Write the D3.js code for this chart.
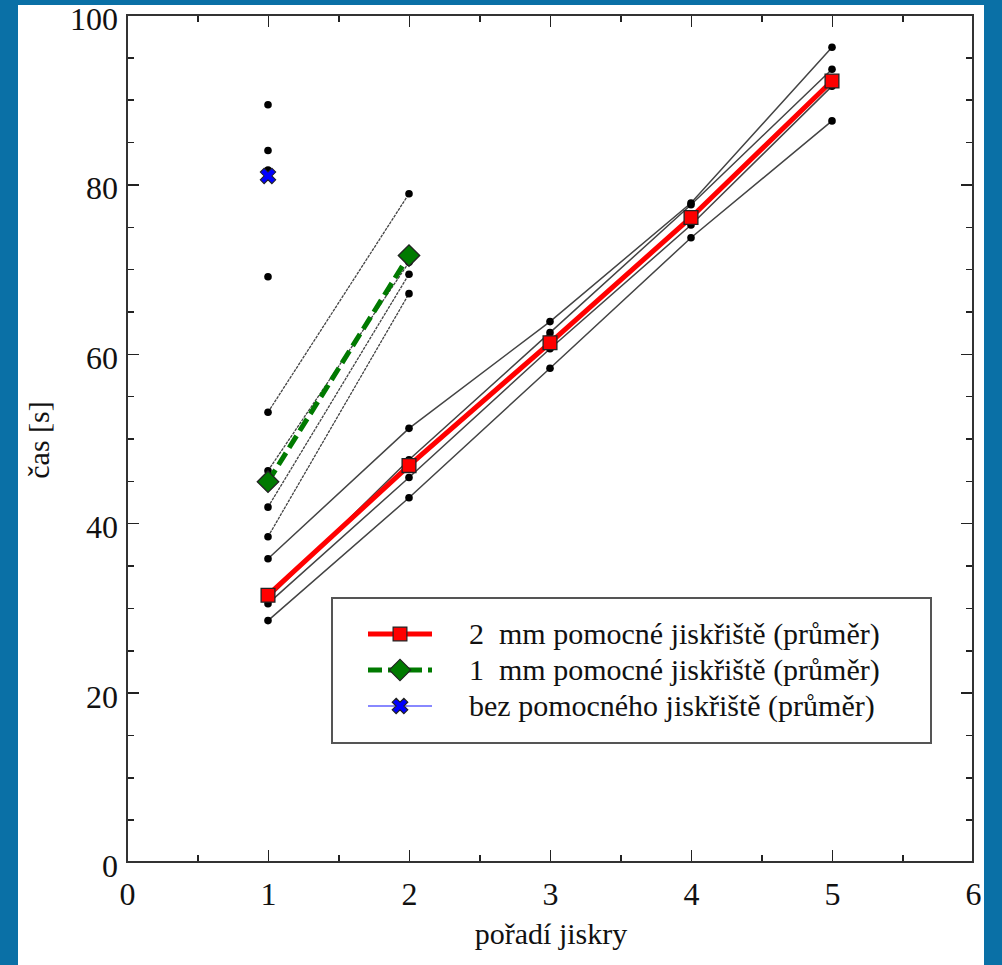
<!DOCTYPE html>
<html>
<meta charset="utf-8">
<style>
body { margin: 0; background: #0a70a6; }
svg { display: block; }
.axis path, .axis line { stroke: #222; shape-rendering: crispEdges; }
svg text { font-family: "Liberation Serif", "Times New Roman", Tinos, "DejaVu Serif", "Noto Serif", FreeSerif, serif !important; fill: #111; }
</style>
<body>
<script src="https://d3js.org/d3.v7.min.js"></script>
<script>
// data
var xTicks = [0, 1, 2, 3, 4, 5, 6];
var yTicks = [0, 20, 40, 60, 80, 100];
var sparks = [1, 2, 3, 4, 5];

// single runs with 2 mm gap
var runs2mm = [
	[35.8, 51.2, 63.8, 77.8, 96.2],
	[31.1, 47.5, 62.5, 77.6, 93.6],
	[30.5, 45.4, 60.6, 75.2, 91.6],
	[28.5, 43.0, 58.3, 73.7, 87.5]
];
var mean2mm = [31.5, 46.8, 61.3, 76.1, 92.2];

// single runs with 1 mm gap
var runs1mm = [
	[53.1, 78.9],
	[46.2, 70.8],
	[41.9, 69.4],
	[38.4, 67.1]
];
var mean1mm = [44.9, 71.6];

// without auxiliary gap
var runsNone = [89.4, 84.0, 81.7, 69.1];
var meanNone = [81.0];

var legendLabels = [
	"2\u00a0\u00a0mm pomocné jiskřiště (průměr)",
	"1\u00a0\u00a0mm pomocné jiskřiště (průměr)",
	"bez pomocného jiskřiště (průměr)"
];

var W = 1002, H = 965;
var margin = {top: 15, right: 29, bottom: 103, left: 127},
	width = W - margin.left - margin.right,
	height = H - margin.top - margin.bottom;

var svgRoot = d3.select("body").append("svg")
	.attr("width", W)
	.attr("height", H);

// white panel on blue frame
svgRoot.append("rect")
	.attr("x", 18).attr("y", 5)
	.attr("width", 966).attr("height", H - 5)
	.attr("fill", "#fff");

var svg = svgRoot.append("g")
	.attr("transform", "translate(" + margin.left + "," + margin.top + ")");

var x = d3.scaleLinear().domain([0, 6]).range([0, width]);
var y = d3.scaleLinear().domain([0, 100]).range([height, 0]);

// minor ticks
var xMinor = d3.range(0.5, 6, 1);
var yMinor = d3.range(0, 101, 5).filter(function(v) { return v % 20 !== 0; });

function tickAxis(axis, cls, tr) {
	return svg.append("g")
		.attr("class", "axis " + cls)
		.attr("transform", tr)
		.call(axis)
		.call(function(g) { g.select(".domain").remove(); });
}

// major inward ticks with labels (bottom, left)
tickAxis(d3.axisBottom(x).tickValues(xTicks).tickSize(-12).tickPadding(20).tickFormat(d3.format("d")), "xb", "translate(0," + height + ")");
var yl = tickAxis(d3.axisLeft(y).tickValues(yTicks).tickSize(-12).tickPadding(9).tickFormat(d3.format("d")), "yl", "translate(0,0)");
yl.selectAll("text").attr("dy", "0.45em");
// top / right major ticks without labels
tickAxis(d3.axisTop(x).tickValues(xTicks).tickSize(-12).tickFormat(""), "xt", "translate(0,0)");
tickAxis(d3.axisRight(y).tickValues(yTicks).tickSize(-12).tickFormat(""), "yr", "translate(" + width + ",0)");
// minor ticks on all sides
tickAxis(d3.axisBottom(x).tickValues(xMinor).tickSize(-7).tickFormat(""), "xbm", "translate(0," + height + ")");
tickAxis(d3.axisTop(x).tickValues(xMinor).tickSize(-7).tickFormat(""), "xtm", "translate(0,0)");
tickAxis(d3.axisLeft(y).tickValues(yMinor).tickSize(-7).tickFormat(""), "ylm", "translate(0,0)");
tickAxis(d3.axisRight(y).tickValues(yMinor).tickSize(-7).tickFormat(""), "yrm", "translate(" + width + ",0)");

svg.selectAll(".axis line").attr("stroke-width", 1.5);
svg.selectAll(".axis text")
	.attr("font-size", "32px")
	.attr("fill", "#111");

// frame
svg.append("rect")
	.attr("width", width).attr("height", height)
	.attr("fill", "none")
	.attr("stroke", "#333")
	.attr("stroke-width", 2);

var line = d3.line()
	.x(function(d) { return x(d[0]); })
	.y(function(d) { return y(d[1]); });

function pts(xs, vals) { return vals.map(function(v, i) { return [xs[i], v]; }); }

// thin run lines
runs1mm.forEach(function(r) {
	svg.append("path")
		.attr("d", line(pts(sparks, r)))
		.attr("fill", "none")
		.attr("stroke", "#444")
		.attr("stroke-width", 1.3)
		.attr("stroke-dasharray", "3,1");
});
runs2mm.forEach(function(r) {
	svg.append("path")
		.attr("d", line(pts(sparks, r)))
		.attr("fill", "none")
		.attr("stroke", "#444")
		.attr("stroke-width", 1.5);
});

// run points
var allDots = [];
runs2mm.forEach(function(r) { allDots = allDots.concat(pts(sparks, r)); });
runs1mm.forEach(function(r) { allDots = allDots.concat(pts(sparks, r)); });
runsNone.forEach(function(v) { allDots.push([1, v]); });
svg.selectAll(".dot")
	.data(allDots)
	.enter().append("circle")
	.attr("class", "dot")
	.attr("cx", function(d) { return x(d[0]); })
	.attr("cy", function(d) { return y(d[1]); })
	.attr("r", 3.8)
	.attr("fill", "#000");

// mean lines
svg.append("path")
	.attr("d", line(pts(sparks, mean2mm)))
	.attr("fill", "none")
	.attr("stroke", "#ff0000")
	.attr("stroke-width", 5);
svg.append("path")
	.attr("d", line(pts(sparks, mean1mm)))
	.attr("fill", "none")
	.attr("stroke", "#007a00")
	.attr("stroke-width", 5)
	.attr("stroke-dasharray", "14,6");

var sq = d3.symbol().type(d3.symbolSquare).size(190);
var di = d3.symbol().type(d3.symbolSquare).size(230);
var cr = d3.symbol().type(d3.symbolCross).size(150);

svg.selectAll(".m2")
	.data(pts(sparks, mean2mm))
	.enter().append("path")
	.attr("transform", function(d) { return "translate(" + x(d[0]) + "," + y(d[1]) + ")"; })
	.attr("d", sq)
	.attr("fill", "#ff0000")
	.attr("stroke", "#222")
	.attr("stroke-width", 1.3);
svg.selectAll(".m1")
	.data(pts(sparks, mean1mm))
	.enter().append("path")
	.attr("transform", function(d) { return "translate(" + x(d[0]) + "," + y(d[1]) + ") rotate(45)"; })
	.attr("d", di)
	.attr("fill", "#007a00")
	.attr("stroke", "#222")
	.attr("stroke-width", 1.3);
svg.selectAll(".m0")
	.data(pts(sparks, meanNone))
	.enter().append("path")
	.attr("transform", function(d) { return "translate(" + x(d[0]) + "," + y(d[1]) + ") rotate(45)"; })
	.attr("d", cr)
	.attr("fill", "#0000ff")
	.attr("stroke", "#222")
	.attr("stroke-width", 1);

// legend
var lg = svg.append("g").attr("transform", "translate(" + (332 - margin.left) + "," + (598 - margin.top) + ")");
lg.append("rect")
	.attr("width", 599).attr("height", 145)
	.attr("fill", "#fff")
	.attr("stroke", "#555")
	.attr("stroke-width", 2);

var legendStyles = [
	{color: "#ff0000", width: 5, dash: null, sym: sq, rot: 0, fill: "#ff0000"},
	{color: "#007a00", width: 5, dash: "14,6", sym: di, rot: 45, fill: "#007a00"},
	{color: "#8888ff", width: 2, dash: null, sym: cr, rot: 45, fill: "#0000ff"}
];
legendLabels.forEach(function(t, i) {
	var s = legendStyles[i];
	var yy = 36 + i * 36;
	lg.append("line")
		.attr("x1", 36).attr("x2", 100)
		.attr("y1", yy).attr("y2", yy)
		.attr("stroke", s.color)
		.attr("stroke-width", s.width)
		.attr("stroke-dasharray", s.dash);
	lg.append("path")
		.attr("transform", "translate(68," + yy + ") rotate(" + s.rot + ")")
		.attr("d", s.sym)
		.attr("fill", s.fill)
		.attr("stroke", "#222")
		.attr("stroke-width", 1.2);
	lg.append("text")
		.attr("x", 137).attr("y", yy + 10)
		.attr("font-size", "30px")
		.text(t);
});

// axis titles
svg.append("text")
	.attr("x", 424)
	.attr("y", height + 82)
	.attr("text-anchor", "middle")
	.attr("font-size", "30px")
	.text("pořadí jiskry");
svg.append("text")
	.attr("transform", "rotate(-90)")
	.attr("x", -(440 - margin.top))
	.attr("y", -78)
	.attr("text-anchor", "middle")
	.attr("font-size", "30px")
	.text("čas [s]");
</script>
</body>
</html>
